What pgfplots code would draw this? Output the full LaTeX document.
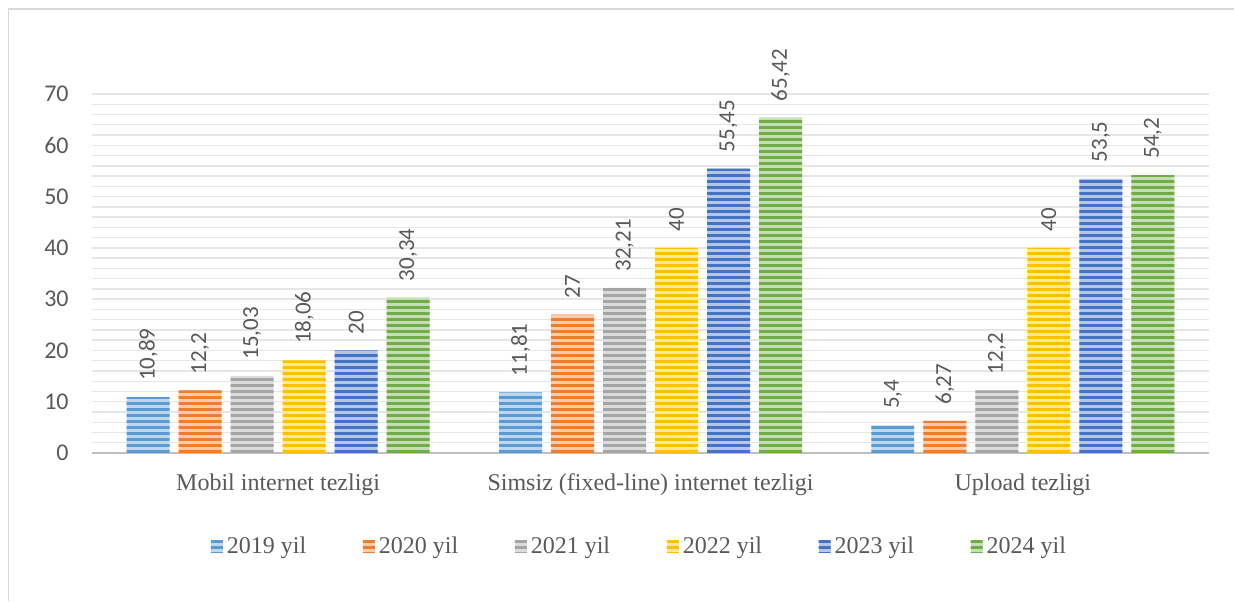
\documentclass[border=0pt]{standalone}
\usepackage{pgfplots}
\pgfplotsset{compat=1.18}
\usetikzlibrary{patterns.meta}
\usepackage{fontspec}
\setmainfont{Liberation Serif}
\newfontfamily\carlito{Carlito}
\definecolor{txt}{HTML}{595959}
\definecolor{gridc}{HTML}{E6E6E6}
\definecolor{basec}{HTML}{BFBFBF}
\definecolor{framec}{HTML}{D9D9D9}
\definecolor{c1}{HTML}{5B9BD5}
\definecolor{c2}{HTML}{ED7D31}
\definecolor{c3}{HTML}{A5A5A5}
\definecolor{c4}{HTML}{FFC000}
\definecolor{c5}{HTML}{4472C4}
\definecolor{c6}{HTML}{70AD47}
\pgfplotsset{
  barsty/.style={fill=#1!40, draw=none,
    postaction={pattern={Lines[angle=0,distance=3pt,line width=1.5pt]}, pattern color=#1},
    legend image code/.code={\draw[##1, draw=none] (0pt,-3pt) rectangle (6pt,3pt);}}
}
\begin{document}
\begin{tikzpicture}
\useasboundingbox (0,0) rectangle (617pt,300.5pt);
\draw[framec, line width=0.8pt] (4.25pt,0) -- (4.25pt,296pt) -- (617pt,296pt);
\begin{axis}[
  at={(46pt,74pt)}, anchor=south west,
  scale only axis, width=558.5pt, height=179.5pt,
  xmin=-0.5, xmax=2.5, ymin=0, ymax=70,
  clip=false,
  ybar=4.5pt, bar width=21.5pt,
  xtick={0,1,2},
  xticklabels={Mobil internet tezligi, Simsiz (fixed-line) internet tezligi, Upload tezligi},
  ytick={0,10,...,70}, minor y tick num=4,
  ymajorgrids, yminorgrids,
  major grid style={gridc, line width=0.7pt},
  minor grid style={gridc, line width=0.7pt},
  extra y ticks={0}, extra y tick labels={},
  extra y tick style={major grid style={basec, line width=1.3pt}},
  axis line style={draw=none},
  tick style={draw=none},
  /pgf/number format/assume math mode=true,
  xticklabel style={font=\fontsize{12}{14}\selectfont, text=txt, anchor=base, yshift=-14.5pt},
  yticklabel style={font=\carlito\fontsize{12}{14}\selectfont, text=txt, anchor=east, inner sep=0pt, xshift=-11.5pt},
  nodes near coords, point meta=explicit symbolic,
  every node near coord/.append style={rotate=90, anchor=west, font=\carlito\fontsize{11.5}{13}\selectfont, text=txt, inner xsep=8pt},
  legend columns=6,
  legend style={at={(0.491,-0.2618)}, anchor=center, draw=none, fill=none,
    font=\fontsize{12}{14}\selectfont, text=txt,
    /tikz/every even column/.append style={column sep=26.3pt}},
]
\addplot[barsty=c1] coordinates {(0,10.89) [10,89] (1,11.81) [11,81] (2,5.4) [5,4]};
\addplot[barsty=c2] coordinates {(0,12.2) [12,2] (1,27) [27] (2,6.27) [6,27]};
\addplot[barsty=c3] coordinates {(0,15.03) [15,03] (1,32.21) [32,21] (2,12.2) [12,2]};
\addplot[barsty=c4] coordinates {(0,18.06) [18,06] (1,40) [40] (2,40) [40]};
\addplot[barsty=c5] coordinates {(0,20) [20] (1,55.45) [55,45] (2,53.5) [53,5]};
\addplot[barsty=c6] coordinates {(0,30.34) [30,34] (1,65.42) [65,42] (2,54.2) [54,2]};
\legend{2019 yil, 2020 yil, 2021 yil, 2022 yil, 2023 yil, 2024 yil}
\end{axis}
\end{tikzpicture}
\end{document}
